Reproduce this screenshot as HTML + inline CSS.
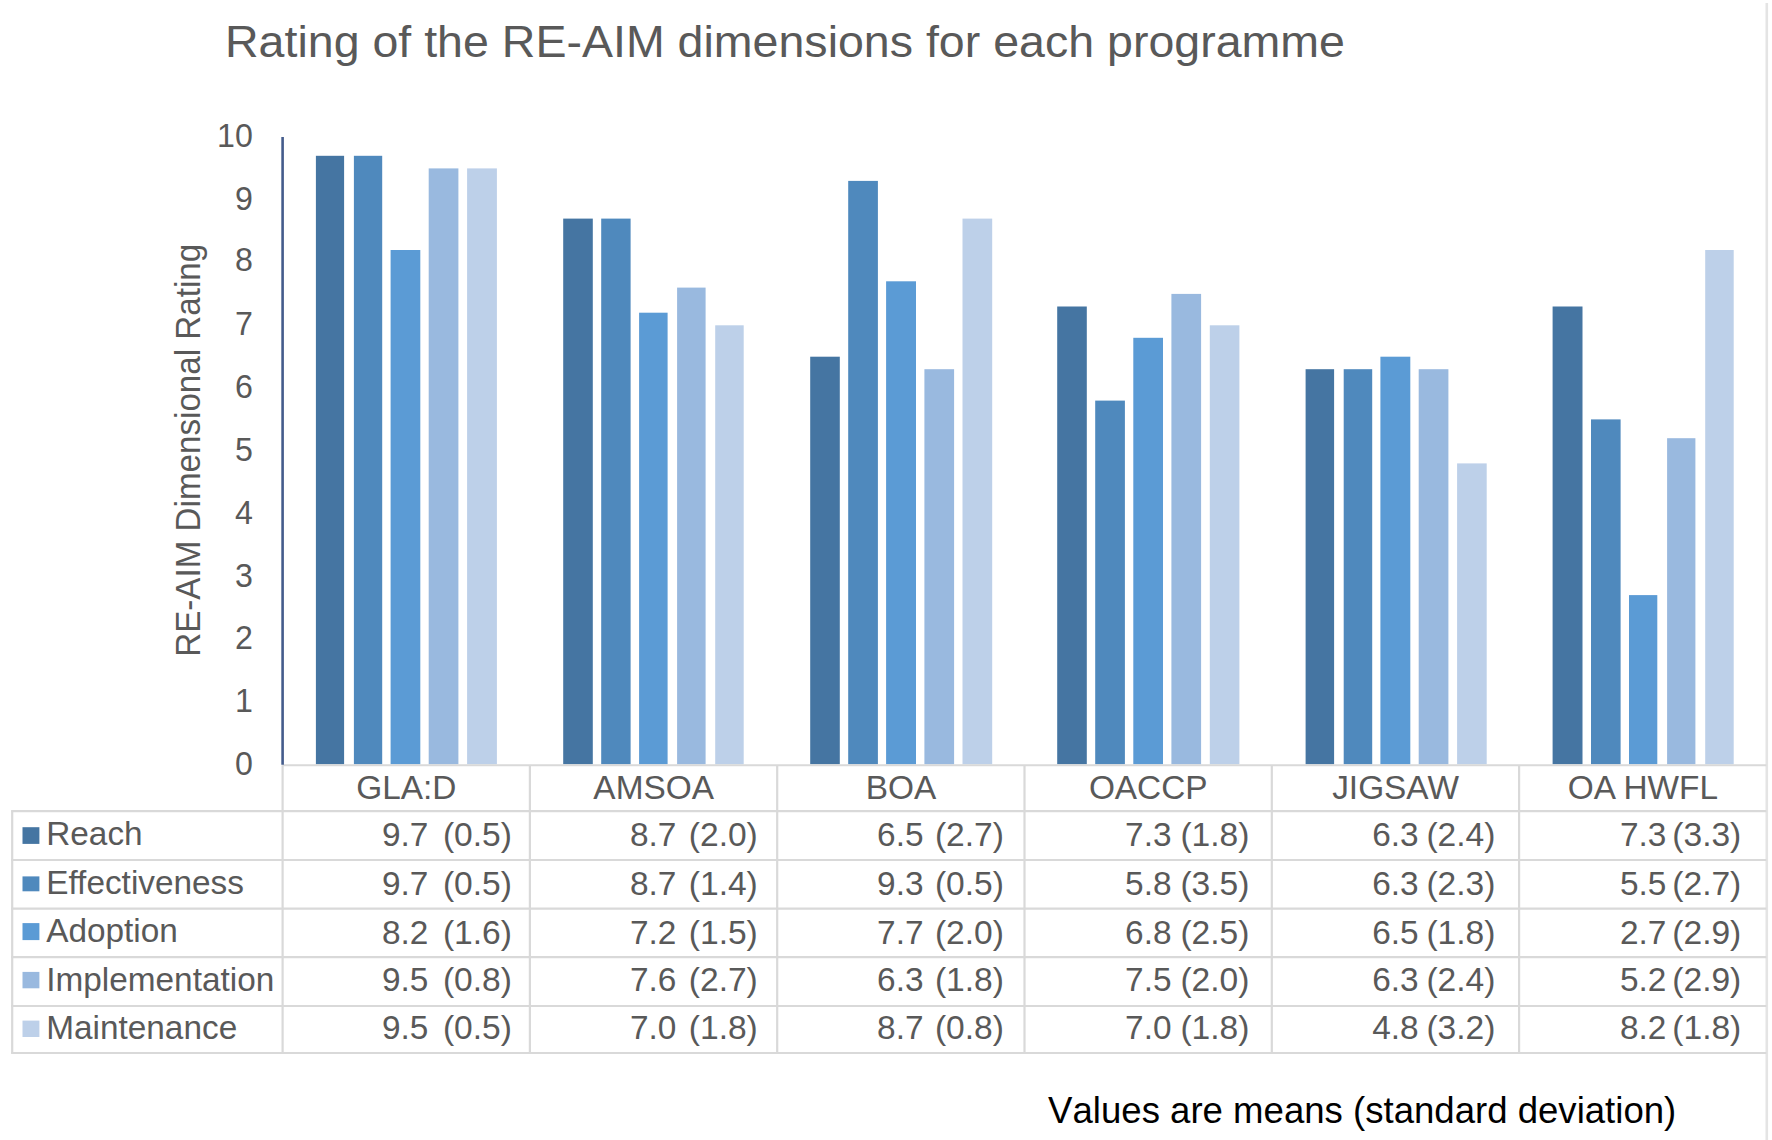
<!DOCTYPE html>
<html lang="en"><head><meta charset="utf-8"><title>Rating of the RE-AIM dimensions for each programme</title>
<style>
html,body{margin:0;padding:0;background:#fff;}
body{width:1772px;height:1140px;overflow:hidden;}
svg{display:block;}
text{font-family:"Liberation Sans",Arial,sans-serif;fill:#595959;}
.n{font-size:33.4px;}
.h{font-size:34px;}
.l{font-size:32.4px;}
.y{font-size:33px;}
.yt{font-size:33.2px;}
.title{font-size:44.7px;}
.note{font-size:36px;fill:#000;font-kerning:none;}
.g{stroke:#D9D9D9;stroke-width:2.2;fill:none;}
</style></head><body>
<svg width="1772" height="1140" viewBox="0 0 1772 1140">
<rect width="1772" height="1140" fill="#fff"/>
<line x1="1766.8" y1="3" x2="1766.8" y2="1140" stroke="#E4E4E4" stroke-width="2.6"/>
<text class="title" transform="translate(225.00 57.30) scale(1.0412 1)">Rating of the RE-AIM dimensions for each programme</text>
<g>
<rect x="315.9" y="155.8" width="28.2" height="608.5" fill="#4575A2"/>
<rect x="353.9" y="155.8" width="28.3" height="608.5" fill="#4F89BD"/>
<rect x="390.6" y="250.0" width="29.7" height="514.3" fill="#5B9BD5"/>
<rect x="428.7" y="168.4" width="29.7" height="595.9" fill="#99B9DF"/>
<rect x="467.1" y="168.4" width="29.8" height="595.9" fill="#BDD0E9"/>
<rect x="563.2" y="218.6" width="29.6" height="545.7" fill="#4575A2"/>
<rect x="601.2" y="218.6" width="29.4" height="545.7" fill="#4F89BD"/>
<rect x="639.1" y="312.7" width="28.5" height="451.6" fill="#5B9BD5"/>
<rect x="677.1" y="287.6" width="28.5" height="476.7" fill="#99B9DF"/>
<rect x="715.2" y="325.3" width="28.5" height="439.0" fill="#BDD0E9"/>
<rect x="810.2" y="356.7" width="29.6" height="407.6" fill="#4575A2"/>
<rect x="848.2" y="180.9" width="29.7" height="583.4" fill="#4F89BD"/>
<rect x="886.1" y="281.3" width="29.9" height="483.0" fill="#5B9BD5"/>
<rect x="924.4" y="369.2" width="29.7" height="395.1" fill="#99B9DF"/>
<rect x="962.5" y="218.6" width="29.7" height="545.7" fill="#BDD0E9"/>
<rect x="1057.2" y="306.5" width="29.6" height="457.8" fill="#4575A2"/>
<rect x="1095.2" y="400.6" width="29.7" height="363.7" fill="#4F89BD"/>
<rect x="1133.3" y="337.8" width="29.7" height="426.5" fill="#5B9BD5"/>
<rect x="1171.4" y="293.9" width="29.7" height="470.4" fill="#99B9DF"/>
<rect x="1209.8" y="325.3" width="29.6" height="439.0" fill="#BDD0E9"/>
<rect x="1305.6" y="369.2" width="28.5" height="395.1" fill="#4575A2"/>
<rect x="1343.7" y="369.2" width="28.5" height="395.1" fill="#4F89BD"/>
<rect x="1380.4" y="356.7" width="29.9" height="407.6" fill="#5B9BD5"/>
<rect x="1418.7" y="369.2" width="29.7" height="395.1" fill="#99B9DF"/>
<rect x="1457.1" y="463.4" width="29.6" height="300.9" fill="#BDD0E9"/>
<rect x="1552.6" y="306.5" width="29.9" height="457.8" fill="#4575A2"/>
<rect x="1591.0" y="419.4" width="29.6" height="344.9" fill="#4F89BD"/>
<rect x="1629.0" y="595.1" width="28.3" height="169.2" fill="#5B9BD5"/>
<rect x="1667.1" y="438.2" width="28.3" height="326.1" fill="#99B9DF"/>
<rect x="1705.2" y="250.0" width="28.5" height="514.3" fill="#BDD0E9"/>
</g>
<g class="g">
<line x1="282.6" y1="765.2" x2="1766.4" y2="765.2" stroke-width="2"/>
<line x1="11.1" y1="811.2" x2="1766.4" y2="811.2"/>
<line x1="11.1" y1="860.0" x2="1766.4" y2="860.0"/>
<line x1="11.1" y1="908.6" x2="1766.4" y2="908.6"/>
<line x1="11.1" y1="957.2" x2="1766.4" y2="957.2"/>
<line x1="11.1" y1="1006.0" x2="1766.4" y2="1006.0"/>
<line x1="11.1" y1="1053.0" x2="1766.4" y2="1053.0"/>
<line x1="12.2" y1="811.2" x2="12.2" y2="1053.0"/>
<line x1="282.6" y1="765.2" x2="282.6" y2="1053.0"/>
<line x1="529.9" y1="765.2" x2="529.9" y2="1053.0"/>
<line x1="777.2" y1="765.2" x2="777.2" y2="1053.0"/>
<line x1="1024.5" y1="765.2" x2="1024.5" y2="1053.0"/>
<line x1="1271.8" y1="765.2" x2="1271.8" y2="1053.0"/>
<line x1="1519.1" y1="765.2" x2="1519.1" y2="1053.0"/>
</g>
<line x1="282.6" y1="137.0" x2="282.6" y2="764.8" stroke="#445C8C" stroke-width="2.6"/>
<text class="y" transform="translate(252.90 774.95) scale(0.9750 1)" text-anchor="end">0</text>
<text class="y" transform="translate(252.90 712.19) scale(0.9750 1)" text-anchor="end">1</text>
<text class="y" transform="translate(252.90 649.43) scale(0.9750 1)" text-anchor="end">2</text>
<text class="y" transform="translate(252.90 586.67) scale(0.9750 1)" text-anchor="end">3</text>
<text class="y" transform="translate(252.90 523.91) scale(0.9750 1)" text-anchor="end">4</text>
<text class="y" transform="translate(252.90 461.15) scale(0.9750 1)" text-anchor="end">5</text>
<text class="y" transform="translate(252.90 398.39) scale(0.9750 1)" text-anchor="end">6</text>
<text class="y" transform="translate(252.90 334.73) scale(0.9750 1)" text-anchor="end">7</text>
<text class="y" transform="translate(252.90 271.37) scale(0.9750 1)" text-anchor="end">8</text>
<text class="y" transform="translate(252.90 210.11) scale(0.9750 1)" text-anchor="end">9</text>
<text class="y" transform="translate(252.90 147.35) scale(0.9750 1)" text-anchor="end">10</text>
<text class="yt" transform="translate(200.0 656.8) rotate(-90) scale(1 1.057)">RE-AIM Dimensional Rating</text>
<text class="h" transform="translate(406.35 799.20) scale(0.9820 1)" text-anchor="middle">GLA:D</text>
<text class="h" transform="translate(653.65 799.20) scale(0.9820 1)" text-anchor="middle">AMSOA</text>
<text class="h" transform="translate(900.95 799.20) scale(0.9820 1)" text-anchor="middle">BOA</text>
<text class="h" transform="translate(1148.25 799.20) scale(0.9820 1)" text-anchor="middle">OACCP</text>
<text class="h" transform="translate(1395.55 799.20) scale(0.9820 1)" text-anchor="middle">JIGSAW</text>
<text class="h" transform="translate(1642.85 799.20) scale(0.9820 1)" text-anchor="middle">OA HWFL</text>
<rect x="22.5" y="827.2" width="16.9" height="16.7" fill="#4575A2"/>
<text class="l" transform="translate(46.20 845.05) scale(1.0300 1)">Reach</text>
<text class="n" x="382.00" y="845.95">9.7</text>
<text class="n" transform="translate(442.90 845.95) scale(1.0050 1)">(0.5)</text>
<text class="n" x="630.00" y="845.95">8.7</text>
<text class="n" transform="translate(688.80 845.95) scale(1.0050 1)">(2.0)</text>
<text class="n" x="877.10" y="845.95">6.5</text>
<text class="n" transform="translate(934.95 845.95) scale(1.0050 1)">(2.7)</text>
<text class="n" x="1125.10" y="845.95">7.3</text>
<text class="n" transform="translate(1180.45 845.95) scale(1.0050 1)">(1.8)</text>
<text class="n" x="1372.20" y="845.95">6.3</text>
<text class="n" transform="translate(1426.40 845.95) scale(1.0050 1)">(2.4)</text>
<text class="n" x="1620.00" y="845.95">7.3</text>
<text class="n" transform="translate(1672.30 845.95) scale(1.0050 1)">(3.3)</text>
<rect x="22.5" y="876.4" width="16.9" height="14.9" fill="#4F89BD"/>
<text class="l" transform="translate(46.20 894.20) scale(1.0300 1)">Effectiveness</text>
<text class="n" x="382.00" y="894.85">9.7</text>
<text class="n" transform="translate(442.90 894.85) scale(1.0050 1)">(0.5)</text>
<text class="n" x="630.00" y="894.85">8.7</text>
<text class="n" transform="translate(688.80 894.85) scale(1.0050 1)">(1.4)</text>
<text class="n" x="877.10" y="894.85">9.3</text>
<text class="n" transform="translate(934.95 894.85) scale(1.0050 1)">(0.5)</text>
<text class="n" x="1125.10" y="894.85">5.8</text>
<text class="n" transform="translate(1180.45 894.85) scale(1.0050 1)">(3.5)</text>
<text class="n" x="1372.20" y="894.85">6.3</text>
<text class="n" transform="translate(1426.40 894.85) scale(1.0050 1)">(2.3)</text>
<text class="n" x="1620.00" y="894.85">5.5</text>
<text class="n" transform="translate(1672.30 894.85) scale(1.0050 1)">(2.7)</text>
<rect x="22.5" y="923.1" width="16.9" height="17.0" fill="#5B9BD5"/>
<text class="l" transform="translate(46.20 941.55) scale(1.0300 1)">Adoption</text>
<text class="n" x="382.00" y="943.50">8.2</text>
<text class="n" transform="translate(442.90 943.50) scale(1.0050 1)">(1.6)</text>
<text class="n" x="630.00" y="943.50">7.2</text>
<text class="n" transform="translate(688.80 943.50) scale(1.0050 1)">(1.5)</text>
<text class="n" x="877.10" y="943.50">7.7</text>
<text class="n" transform="translate(934.95 943.50) scale(1.0050 1)">(2.0)</text>
<text class="n" x="1125.10" y="943.50">6.8</text>
<text class="n" transform="translate(1180.45 943.50) scale(1.0050 1)">(2.5)</text>
<text class="n" x="1372.20" y="943.50">6.5</text>
<text class="n" transform="translate(1426.40 943.50) scale(1.0050 1)">(1.8)</text>
<text class="n" x="1620.00" y="943.50">2.7</text>
<text class="n" transform="translate(1672.30 943.50) scale(1.0050 1)">(2.9)</text>
<rect x="22.5" y="971.9" width="16.9" height="16.4" fill="#99B9DF"/>
<text class="l" transform="translate(46.20 990.80) scale(1.0300 1)">Implementation</text>
<text class="n" x="382.00" y="990.95">9.5</text>
<text class="n" transform="translate(442.90 990.95) scale(1.0050 1)">(0.8)</text>
<text class="n" x="630.00" y="990.95">7.6</text>
<text class="n" transform="translate(688.80 990.95) scale(1.0050 1)">(2.7)</text>
<text class="n" x="877.10" y="990.95">6.3</text>
<text class="n" transform="translate(934.95 990.95) scale(1.0050 1)">(1.8)</text>
<text class="n" x="1125.10" y="990.95">7.5</text>
<text class="n" transform="translate(1180.45 990.95) scale(1.0050 1)">(2.0)</text>
<text class="n" x="1372.20" y="990.95">6.3</text>
<text class="n" transform="translate(1426.40 990.95) scale(1.0050 1)">(2.4)</text>
<text class="n" x="1620.00" y="990.95">5.2</text>
<text class="n" transform="translate(1672.30 990.95) scale(1.0050 1)">(2.9)</text>
<rect x="22.5" y="1020.6" width="16.9" height="16.4" fill="#BDD0E9"/>
<text class="l" transform="translate(46.20 1038.70) scale(1.0300 1)">Maintenance</text>
<text class="n" x="382.00" y="1039.35">9.5</text>
<text class="n" transform="translate(442.90 1039.35) scale(1.0050 1)">(0.5)</text>
<text class="n" x="630.00" y="1039.35">7.0</text>
<text class="n" transform="translate(688.80 1039.35) scale(1.0050 1)">(1.8)</text>
<text class="n" x="877.10" y="1039.35">8.7</text>
<text class="n" transform="translate(934.95 1039.35) scale(1.0050 1)">(0.8)</text>
<text class="n" x="1125.10" y="1039.35">7.0</text>
<text class="n" transform="translate(1180.45 1039.35) scale(1.0050 1)">(1.8)</text>
<text class="n" x="1372.20" y="1039.35">4.8</text>
<text class="n" transform="translate(1426.40 1039.35) scale(1.0050 1)">(3.2)</text>
<text class="n" x="1620.00" y="1039.35">8.2</text>
<text class="n" transform="translate(1672.30 1039.35) scale(1.0050 1)">(1.8)</text>
<text class="note" transform="translate(1048.10 1122.70) scale(1.0162 1)">Values are means (standard deviation)</text>
</svg>
</body></html>
